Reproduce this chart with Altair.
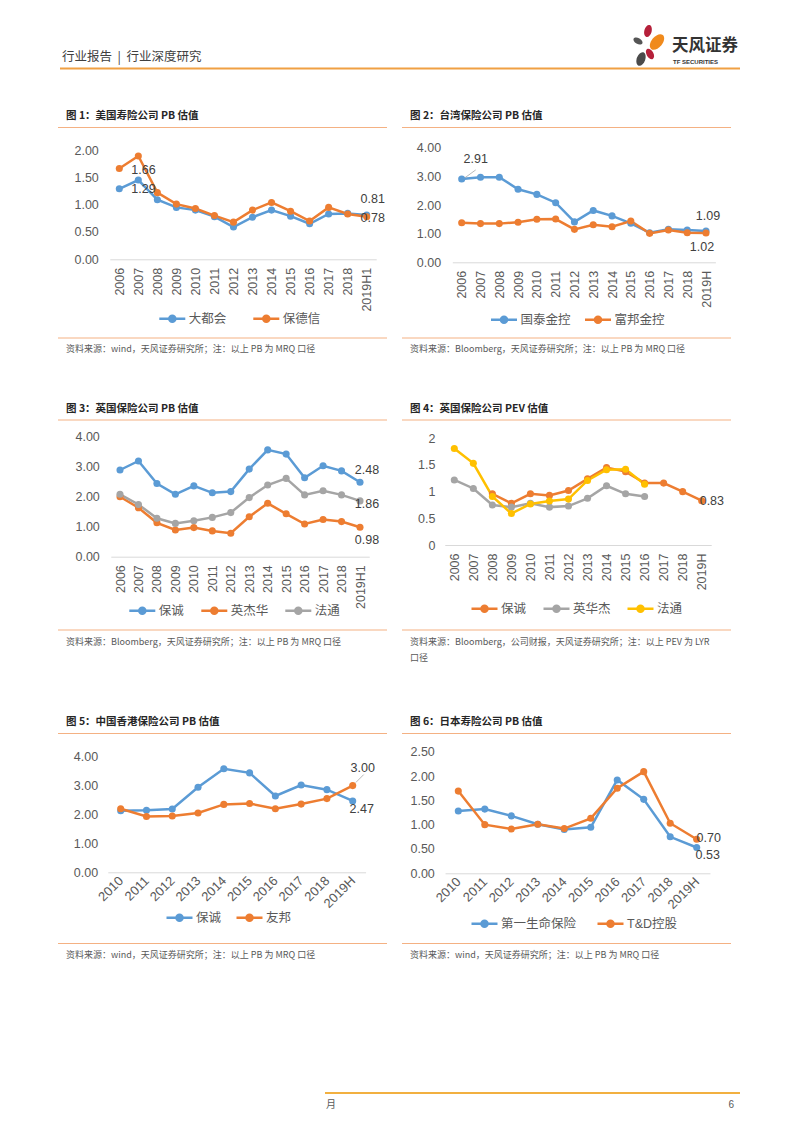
import altair as alt
import pandas as pd

M = 8
W, H = 786, 1117
NUM = "Liberation Sans"
CJK = "Noto Sans CJK SC"
MIX = "Liberation Sans, Noto Sans CJK SC"
TXT = "#404040"
AXC = "#595959"
BLUE, ORANGE, GRAY, YELLOW = "#5B9BD5", "#ED7D31", "#A5A5A5", "#FFC000"

# ---------------- data ----------------
cats_h1 = ["2006", "2007", "2008", "2009", "2010", "2011", "2012", "2013",
           "2014", "2015", "2016", "2017", "2018", "2019H1"]
cats_h = ["2006", "2007", "2008", "2009", "2010", "2011", "2012", "2013",
          "2014", "2015", "2016", "2017", "2018", "2019H"]
cats_10 = ["2010", "2011", "2012", "2013", "2014", "2015", "2016", "2017",
           "2018", "2019H"]

p1_names = ["大都会", "保德信"]
p1_metlife = [1.29, 1.45, 1.09, 0.95, 0.90, 0.78, 0.59, 0.77, 0.90, 0.79, 0.65, 0.83, 0.84, 0.81]
p1_prudential = [1.66, 1.89, 1.22, 1.01, 0.93, 0.80, 0.68, 0.90, 1.04, 0.88, 0.70, 0.95, 0.83, 0.78]

p2_names = ["国泰金控", "富邦金控"]
p2_cathay = [2.91, 2.97, 2.97, 2.55, 2.37, 2.08, 1.41, 1.81, 1.62, 1.36, 1.03, 1.15, 1.13, 1.09]
p2_fubon = [1.38, 1.35, 1.35, 1.40, 1.50, 1.51, 1.15, 1.31, 1.24, 1.44, 1.01, 1.13, 1.03, 1.02]

p3_names = ["保诚", "英杰华", "法通"]
p3_pru = [2.89, 3.19, 2.44, 2.08, 2.36, 2.13, 2.17, 2.92, 3.56, 3.42, 2.63, 3.03, 2.86, 2.48]
p3_aviva = [2.00, 1.63, 1.13, 0.89, 0.97, 0.86, 0.78, 1.33, 1.78, 1.43, 1.09, 1.24, 1.17, 0.98]
p3_lg = [2.08, 1.74, 1.28, 1.11, 1.20, 1.31, 1.47, 1.97, 2.39, 2.61, 2.06, 2.20, 2.06, 1.86]

p4_names = ["保诚", "英华杰", "法通"]
p4_pru = [None, None, 0.96, 0.78, 0.96, 0.93, 1.02, 1.24, 1.45, 1.375, 1.16, 1.16, 1.00, 0.83]
p4_aviva = [1.22, 1.06, 0.75, 0.71, 0.78, 0.71, 0.73, 0.875, 1.11, 0.96, 0.91, None, None, None]
p4_lg = [1.81, 1.53, 0.91, 0.59, 0.77, 0.825, 0.86, 1.21, 1.41, 1.42, 1.14, None, None, None]

p5_names = ["保诚", "友邦"]
p5_pru = [2.13, 2.15, 2.19, 2.94, 3.58, 3.44, 2.64, 3.02, 2.86, 2.47]
p5_aia = [2.20, 1.93, 1.95, 2.05, 2.35, 2.38, 2.20, 2.36, 2.55, 3.00]

p6_names = ["第一生命保险", "T&D控股"]
p6_daiichi = [1.28, 1.32, 1.18, 1.01, 0.90, 0.945, 1.92, 1.52, 0.75, 0.53]
p6_td = [1.69, 1.00, 0.91, 1.01, 0.92, 1.13, 1.75, 2.09, 1.03, 0.70]

ticks_2 = [0, 0.5, 1.0, 1.5, 2.0]
ticks_4 = [0, 1.0, 2.0, 3.0, 4.0]
ticks_25 = [0, 0.5, 1.0, 1.5, 2.0, 2.5]

# legend symbol: short line with a dot in the middle
SYM = ("M-1,0H-0.23 M-0.23,0A0.23,0.23 0 1,1 0.23,0A0.23,0.23 0 1,1 -0.23,0 "
       "M-0.08,0A0.08,0.08 0 1,1 0.08,0A0.08,0.08 0 1,1 -0.08,0 M0.23,0H1")


def long_df(cats, names, series):
    rows = []
    for nm, vals in zip(names, series):
        for c, v in zip(cats, vals):
            if v is not None:
                rows.append({"cat": c, "series": nm, "value": v})
    return pd.DataFrame(rows)


def panel(cats, names, series, colors, first_x, last_x, y0, ytop, ymax, yticks,
          yfmt, ylab_right, lab_angle, lab_pad, lab_size, leg_x, leg_y, col_pad,
          labels, leaders=()):
    df = long_df(cats, names, series)
    n = len(cats)
    step = (last_x - first_x) / (n - 1)
    xs = alt.Scale(type="point", domain=cats,
                   range=[first_x - step / 2 - M, last_x + step / 2 - M], padding=0.5)
    ys = alt.Scale(domain=[0, ymax], range=[y0 - M, ytop - M], nice=False)
    xa = alt.Axis(orient="bottom", offset=-(H - (y0 - M)), domain=True,
                  domainColor="#D9D9D9", domainWidth=1, ticks=False, tickSize=0,
                  labelPadding=lab_pad, labelAngle=lab_angle, labelAlign="right",
                  labelBaseline="middle", labelOverlap=False, grid=False, title=None,
                  labelFont=NUM, labelFontSize=lab_size, labelColor=AXC)
    ya = alt.Axis(orient="left", offset=-(ylab_right - M), values=yticks, format=yfmt,
                  domain=False, ticks=False, tickSize=0, labelPadding=0, grid=False,
                  title=None, labelFont=NUM, labelFontSize=12.5, labelColor=AXC)
    lg = alt.Legend(orient="none", legendX=leg_x - M, legendY=leg_y - M,
                    direction="horizontal", title=None, symbolType=SYM,
                    symbolSize=676, symbolStrokeWidth=2.5, labelFont=MIX,
                    labelFontSize=12.5, labelColor=AXC, labelOffset=2,
                    columnPadding=col_pad)
    X = alt.X("cat:N", scale=xs, axis=xa)
    Y = alt.Y("value:Q", scale=ys, axis=ya)
    C = alt.Color("series:N", scale=alt.Scale(domain=names, range=colors), legend=lg)
    base = alt.Chart(df)
    layers = [
        base.mark_line(strokeWidth=2.5).encode(x=X, y=Y, color=C),
        base.mark_point(filled=True, size=50, opacity=1).encode(x=X, y=Y, color=C),
    ]
    for (c, s, align, dx, dy) in labels:
        layers.append(
            base.transform_filter((alt.datum.cat == c) & (alt.datum.series == s))
            .mark_text(align=align, baseline="middle", dx=dx, dy=dy, font=NUM,
                       fontSize=12.5, color=TXT)
            .encode(x=X, y=Y, text=alt.Text("value:Q", format=".2f"))
        )
    for (c, s, ox, oy, ox2, oy2) in leaders:
        layers.append(
            base.transform_filter((alt.datum.cat == c) & (alt.datum.series == s))
            .mark_rule(color="#A6A6A6", strokeWidth=0.8, xOffset=ox, yOffset=oy,
                       x2Offset=ox2, y2Offset=oy2)
            .encode(x=X, y=Y, x2=alt.X2("cat"), y2=alt.Y2("value"))
        )
    return alt.layer(*layers)


def text(t, x, y, size, color=TXT, weight="normal", font=CJK, align="left"):
    return alt.Chart(pd.DataFrame({"t": [t]})).mark_text(
        align=align, baseline="middle", font=font, fontSize=size, color=color,
        fontWeight=weight).encode(x=alt.value(x - M), y=alt.value(y - M), text="t:N")


def hrule(x1, x2, y, color, width):
    return alt.Chart(pd.DataFrame({"a": [0]})).mark_rule(
        color=color, strokeWidth=width).encode(
        x=alt.value(x1 - M), x2=alt.value(x2 - M), y=alt.value(y - M))


PETAL = "M0,-1A0.6,1 0 1,1 0,1A0.6,1 0 1,1 0,-1Z"


def petal(x, y, size, angle, color):
    return alt.Chart(pd.DataFrame({"a": [0]})).mark_point(
        shape=PETAL, filled=True, opacity=1, size=size, angle=angle,
        color=color).encode(x=alt.value(x - M), y=alt.value(y - M))


decor = [
    text("行业报告\u00a0\u00a0|\u00a0\u00a0行业深度研究", 62, 57, 12.5, "#404040"),
    hrule(60, 740, 68.5, "#F0A043", 2),
    petal(648, 31, 150, 15, "#B5203A"),
    petal(638, 41, 100, 300, "#555555"),
    petal(657, 42, 330, 40, "#F08A1C"),
    petal(650, 54, 130, 330, "#B5203A"),
    petal(641, 59, 200, 20, "#4A4A4A"),
    text("天风证券", 672, 46, 16.5, "#333333", "bold"),
    text("TF SECURITIES", 673, 62, 6, "#333333", "bold", NUM),
    hrule(325, 740, 1093, "#F2B040", 2),
    text("月", 326, 1105, 10, "#595959"),
    text("6", 734, 1105, 10, "#595959", font=NUM, align="right"),
]

titles = [
    (66, 116, "图 1：美国寿险公司 PB 估值"),
    (410, 116, "图 2：台湾保险公司 PB 估值"),
    (66, 409, "图 3：英国保险公司 PB 估值"),
    (410, 409, "图 4：英国保险公司 PEV 估值"),
    (66, 722, "图 5：中国香港保险公司 PB 估值"),
    (410, 722, "图 6：日本寿险公司 PB 估值"),
]
for x, y, t in titles:
    decor.append(text(t, x, y, 10.5, "#262626", "bold"))

for (x1, x2) in [(58, 387), (402, 731)]:
    for y in [127.5, 338, 420, 630, 733.5, 943.5]:
        decor.append(hrule(x1, x2, y, "#F4B183", 1))

src_pb_wind = "资料来源：wind，天风证券研究所；注：以上 PB 为 MRQ 口径"
src_pb_bb = "资料来源：Bloomberg，天风证券研究所；注：以上 PB 为 MRQ 口径"
decor += [
    text(src_pb_wind, 66, 349, 9, "#595959"),
    text(src_pb_bb, 410, 349, 9, "#595959"),
    text(src_pb_bb, 66, 641.5, 9, "#595959"),
    text("资料来源：Bloomberg，公司财报，天风证券研究所；注：以上 PEV 为 LYR", 410, 641.5, 9, "#595959"),
    text("口径", 410, 658, 9, "#595959"),
    text(src_pb_wind, 66, 955, 9, "#595959"),
    text(src_pb_wind, 410, 955, 9, "#595959"),
]

p1 = panel(cats_h1, p1_names, [p1_metlife, p1_prudential], [BLUE, ORANGE],
           119.3, 366.7, 259.3, 150, 2.0, ticks_2, ".2f", 98.3, 270, 8, 12.5,
           157.8, 304, 21,
           [("2006", "保德信", "left", 12, 1), ("2006", "大都会", "left", 12, 0),
            ("2019H1", "大都会", "center", 6, -16), ("2019H1", "保德信", "center", 6, 1)])

p2 = panel(cats_h, p2_names, [p2_cathay, p2_fubon], [BLUE, ORANGE],
           461.7, 706, 262.3, 147.7, 4.0, ticks_4, ".2f", 440.7, 270, 8, 12.5,
           489.5, 305, 8,
           [("2006", "国泰金控", "center", 14, -20),
            ("2019H", "国泰金控", "center", 2, -15), ("2019H", "富邦金控", "center", -4, 14)],
           [("2006", "国泰金控", 3, -1, 14, -9)])

p3 = panel(cats_h1, p3_names, [p3_pru, p3_aviva, p3_lg], [BLUE, ORANGE, GRAY],
           120, 360, 556.7, 436.7, 4.0, ticks_4, ".2f", 99.3, 270, 8, 12.5,
           127.8, 596, 11,
           [("2019H1", "保诚", "center", 7, -12), ("2019H1", "法通", "center", 7, 3),
            ("2019H1", "英杰华", "center", 7, 13)])

p4 = panel(cats_h, p4_names, [p4_pru, p4_aviva, p4_lg], [ORANGE, GRAY, YELLOW],
           454.3, 701.7, 545, 438.3, 2.0, ticks_2, "~g", 435, 270, 8, 12.5,
           470, 594, 11,
           [("2019H", "保诚", "left", -2, 0)])

p5 = panel(cats_10, p5_names, [p5_pru, p5_aia], [BLUE, ORANGE],
           120.7, 352.7, 872.3, 756.7, 4.0, ticks_4, ".2f", 97.7, 315, 6, 13,
           165, 903, 9,
           [("2019H", "友邦", "center", 10, -18), ("2019H", "保诚", "center", 9, 8)],
           [("2019H", "友邦", 3, -3, 11, -11)])

p6 = panel(cats_10, p6_names, [p6_daiichi, p6_td], [BLUE, ORANGE],
           458.3, 696.7, 873.3, 751.7, 2.5, ticks_25, ".2f", 434.3, 315, 6, 13,
           470, 909, 15,
           [("2019H", "T&D控股", "center", 12, -1), ("2019H", "第一生命保险", "center", 11, 7)])

chart = alt.layer(*decor, p1, p2, p3, p4, p5, p6).resolve_scale(
    x="independent", y="independent", color="independent"
).properties(
    width=W, height=H, autosize=alt.AutoSizeParams(type="none"), padding=0,
    background="white"
).configure_view(strokeWidth=0)

chart.save("out.html", embed_options={"renderer": "svg", "actions": False})
